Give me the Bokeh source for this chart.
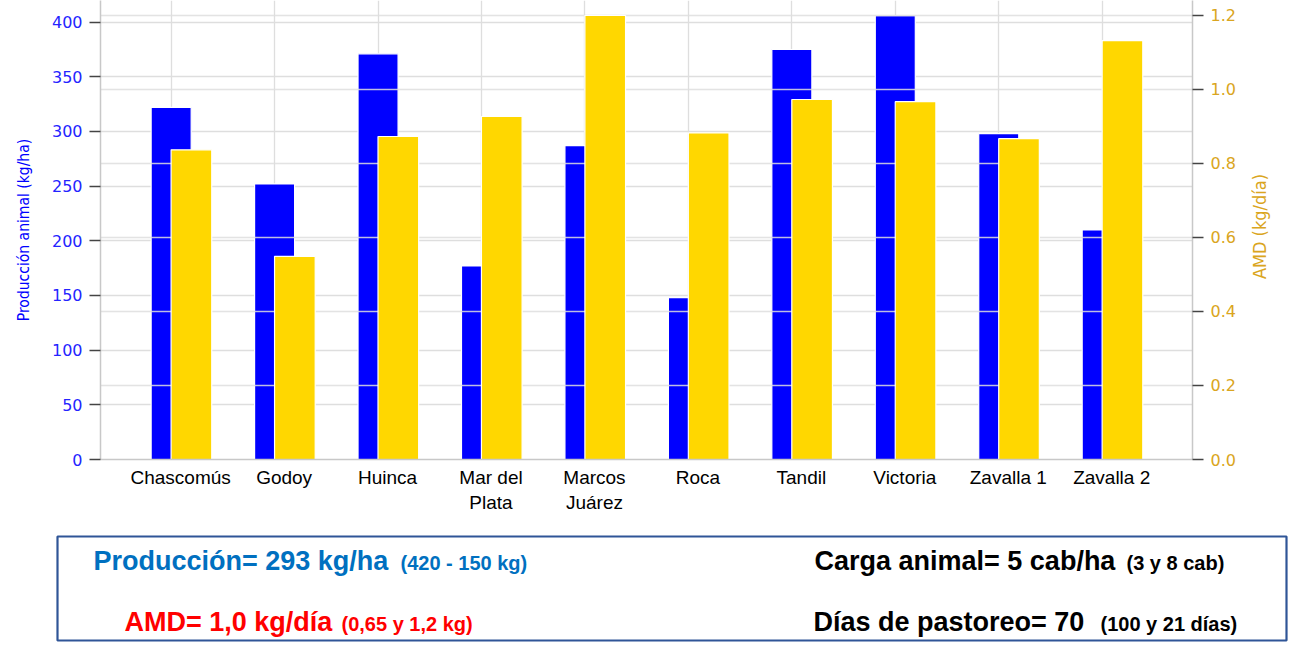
import math

from bokeh.plotting import figure
from bokeh.layouts import row
from bokeh.models import (Range1d, LinearAxis, FixedTicker, NumeralTickFormatter,
                          BoxAnnotation, Label)
from bokeh.embed import file_html
from bokeh.resources import INLINE

# data
sites = ["Chascomús", "Godoy", "Huinca", "Mar del\nPlata", "Marcos\nJuárez",
         "Roca", "Tandil", "Victoria", "Zavalla 1", "Zavalla 2"]
produccion = [322, 252, 371, 177, 287, 148, 375, 406, 298, 210]   # kg/ha
amd = [0.837, 0.549, 0.873, 0.927, 1.20, 0.883, 0.973, 0.967, 0.867, 1.132]  # kg/dia

prod_ticks = [0, 50, 100, 150, 200, 250, 300, 350, 400]
amd_ticks = [0.0, 0.2, 0.4, 0.6, 0.8, 1.0, 1.2]

resumen = [
    ("Producción= 293 kg/ha", "(420 - 150 kg)", "#0070C0"),
    ("AMD= 1,0 kg/día", "(0,65 y 1,2 kg)", "#FF0000"),
    ("Carga animal= 5 cab/ha", "(3 y 8 cab)", "black"),
    ("Días de pastoreo= 70", "(100 y  21 días)", "black"),
]

idx = list(range(len(sites)))
blue_x = [i - 0.092 for i in idx]
gold_x = [i + 0.104 for i in idx]

narrow = "'DejaVu Sans Condensed', 'Liberation Sans Narrow', 'Roboto Condensed', Roboto"
gold_txt = "#DAA520"

x_lo, x_hi = -0.775, 9.781
p = figure(width=1242, height=520, x_range=Range1d(x_lo, x_hi),
           y_range=Range1d(0, 419.8), output_backend="svg", toolbar_location=None,
           min_border_left=100, min_border_right=50, min_border_top=0,
           min_border_bottom=61)
p.extra_y_ranges = {"amd": Range1d(0, 1.2405)}
p.outline_line_color = None
p.background_fill_color = "white"
p.border_fill_color = "white"

grid_col = "#dedede"
p.ygrid.ticker = FixedTicker(ticks=prod_ticks)
p.ygrid.grid_line_color = grid_col
p.ygrid.grid_line_width = 1.3
p.xgrid.ticker = FixedTicker(ticks=blue_x)
p.xgrid.grid_line_color = grid_col
p.xgrid.grid_line_width = 1.3

p.vbar(x=blue_x, top=produccion, width=0.387, fill_color="#0000FF",
       line_color="white", line_width=1.2)
# grid of the right axis sits above the blue bars but below the gold ones
n_g = len(amd_ticks) - 1
p.segment(x0=[x_lo] * n_g, x1=[x_hi] * n_g, y0=amd_ticks[1:], y1=amd_ticks[1:],
          y_range_name="amd", line_color=grid_col, line_width=1.3, line_alpha=0.85)
p.vbar(x=gold_x, top=amd, width=0.393, fill_color="#FFD700",
       line_color="white", line_width=1.2, y_range_name="amd")

# left axis
ya = p.yaxis[0]
ya.ticker = FixedTicker(ticks=prod_ticks)
ya.axis_label = "Producción animal (kg/ha)"
ya.axis_label_text_color = "#0000FF"
ya.axis_label_text_font = narrow
ya.axis_label_text_font_style = "normal"
ya.axis_label_text_font_size = "15.5px"
ya.axis_label_standoff = 16
ya.major_label_text_color = "#2424FF"

# right axis (its title reads upwards, drawn in a narrow strip next to the chart)
ra = LinearAxis(y_range_name="amd", ticker=FixedTicker(ticks=amd_ticks),
                formatter=NumeralTickFormatter(format="0.0"))
ra.major_label_text_color = gold_txt
p.add_layout(ra, "right")

for ax in (ya, ra):
    ax.major_label_text_font = "DejaVu Sans"
    ax.major_label_text_font_size = "16px"
    ax.axis_line_color = "#c8c8c8"
    ax.axis_line_width = 1.5
    ax.major_tick_out = 11
    ax.major_tick_in = 0
    ax.major_tick_line_color = "#444444"
    ax.major_tick_line_width = 1.5
    ax.minor_tick_line_color = None
    ax.major_label_standoff = 7

xa = p.xaxis[0]
xa.ticker = FixedTicker(ticks=idx)
xa.major_label_overrides = {i: s for i, s in zip(idx, sites)}
xa.major_label_text_font = "Liberation Sans"
xa.major_label_text_font_size = "19px"
xa.major_label_text_color = "black"
xa.major_label_standoff = 1
xa.major_tick_line_color = None
xa.minor_tick_line_color = None
xa.axis_line_color = "#c8c8c8"
xa.axis_line_width = 1.5

r = figure(width=58, height=520, x_range=Range1d(1242, 1300), y_range=Range1d(459, 0),
           output_backend="svg", toolbar_location=None, min_border_left=0,
           min_border_right=0, min_border_top=0, min_border_bottom=61)
r.axis.visible = False
r.grid.visible = False
r.outline_line_color = None
r.add_layout(Label(x=1259, y=226, text="AMD (kg/día)", angle=math.pi / 2,
                   text_align="center", text_baseline="middle", text_color=gold_txt,
                   text_font=narrow, text_font_size="18px"))

# summary box under the chart, ranges in page pixels
q = figure(width=1300, height=137, x_range=Range1d(0, 1300), y_range=Range1d(657, 520),
           output_backend="svg", toolbar_location=None, min_border=0)
q.axis.visible = False
q.grid.visible = False
q.outline_line_color = None
q.add_layout(BoxAnnotation(left=57, right=1286, top=536, bottom=640, fill_alpha=0,
                           line_color="#2F5597", line_alpha=1, line_width=2.2))

pos_big = [(93, 560), (124, 621), (814, 560), (813, 621)]
pos_small = [400, 341, 1126, 1100]
for (big, small, col), (bx, by), sx in zip(resumen, pos_big, pos_small):
    q.add_layout(Label(x=bx, y=by, text=big, text_color=col, text_font="Liberation Sans",
                       text_font_style="bold", text_font_size="27px",
                       text_baseline="middle"))
    q.add_layout(Label(x=sx, y=by + 2, text=small, text_color=col,
                       text_font="Liberation Sans", text_font_style="bold",
                       text_font_size="20px", text_baseline="middle"))

open("out.html", "w").write(file_html([row(p, r), q], INLINE))
